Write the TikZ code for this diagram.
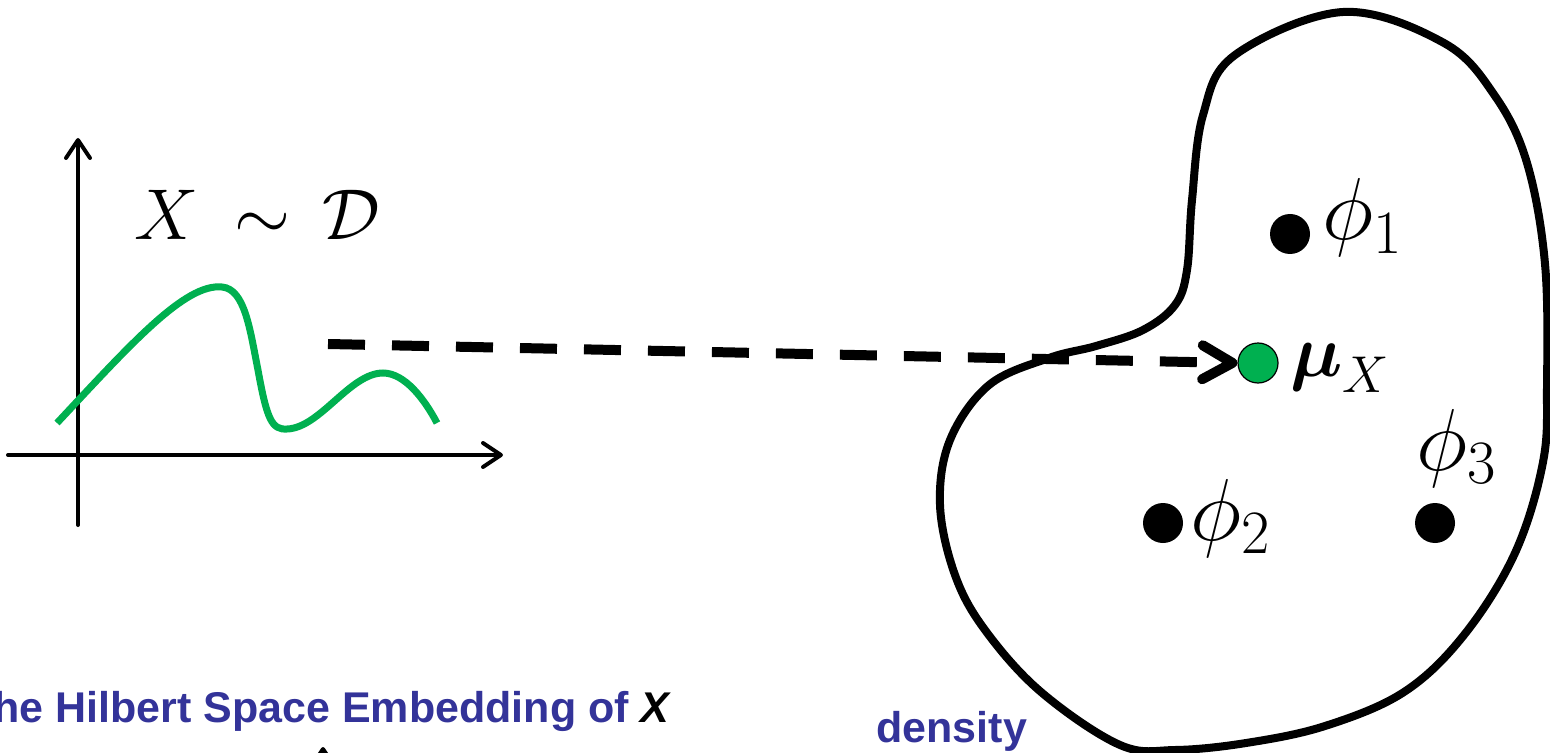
\RequirePackage{fix-cm}
\documentclass[tikz,border=0pt]{standalone}
\usepackage{amsmath}
\usepackage{fontspec}
\newfontfamily\slidefont{Liberation Sans}
\usetikzlibrary{arrows.meta}
\definecolor{densgreen}{RGB}{0,176,80}
\definecolor{slideblue}{RGB}{51,51,153}
\tikzset{
  axisline/.style={line width=2pt, line cap=round, -{Straight Barb[length=9pt,width=12pt,round]}},
  featdot/.style={circle, fill=black, inner sep=0pt, minimum size=20pt},
  meandot/.style={circle, fill=densgreen, draw=black, line width=0.6pt, inner sep=0pt, minimum size=20pt},
  mathlabel/.style={inner sep=0pt, font=\fontsize{44}{48}\selectfont},
  slidetext/.style={inner sep=0pt, text=slideblue, font=\slidefont\bfseries\fontsize{21.5}{26}\selectfont}
}

\begin{document}
\begin{tikzpicture}[x=0.5pt,y=-0.5pt]
\useasboundingbox (0,0) rectangle (1550,753);
\clip (0,0) rectangle (1550,753);
% density sketch
\draw[axisline] (78,525) -- (78,138);
\draw[axisline] (8,455) -- (503,455);
\draw[line width=3.5pt, densgreen] (57,423) .. controls (130,345) and (185,283) .. (222,287)
  .. controls (245,289) and (250,330) .. (258,370)
  .. controls (267,420) and (272,430) .. (287,429)
  .. controls (320,428) and (350,373) .. (383,373)
  .. controls (405,373) and (425,400) .. (437,423);
\node[mathlabel, anchor=base west, font=\fontsize{36}{40}\selectfont] (dist) at (134,240) {$X\mkern4mu\sim\mkern3mu\mathcal{D}$};
% feature space
\draw[line width=4pt] plot[smooth cycle, tension=0.6] coordinates {
  (1343,12) (1444,43) (1495,96) (1527,163) (1545,264) (1547,385) (1543,462)
  (1515,553) (1464,635) (1404,692) (1325,726) (1246,743) (1175,750) (1120,745)
  (1041,692) (985,630) (955,575) (940,505) (950,440) (989,385) (1049,358)
  (1096,346) (1143,330) (1175,305) (1187,270) (1192,200) (1203,115) (1235,55)};
\node[featdot] (phione) at (1290,234) {};
\node[mathlabel, anchor=base west] (phionelab) at (1322,240) {$\phi_1$};
\node[featdot] (phitwo) at (1163,523) {};
\node[mathlabel, anchor=base west] (phitwolab) at (1190,540) {$\phi_2$};
\node[featdot] (phithree) at (1435,523) {};
\node[mathlabel, anchor=base west] (phithreelab) at (1416,470) {$\phi_3$};
\node[meandot] (mu) at (1258,363) {};
\node[mathlabel, anchor=base west, font=\fontsize{37}{40}\selectfont] (mulab) at (1290,376) {$\boldsymbol{\mu}_X$};
\coordinate (src) at (328,344);
\draw[line width=5pt, dash pattern=on 18.5pt off 13.5pt,
  -{Straight Barb[length=15pt,width=17pt,round]}] (src) -- (mu.west);
% slide text
\node[slidetext, anchor=base east] (title) at (670,722) {The Hilbert Space Embedding of \textcolor{black}{\itshape X}};
\node[slidetext, anchor=base west] (dens) at (876,742) {density};
\coordinate (tailend) at (323,800);
\draw[axisline] (tailend) -- (323,747);
\end{tikzpicture}
\end{document}
